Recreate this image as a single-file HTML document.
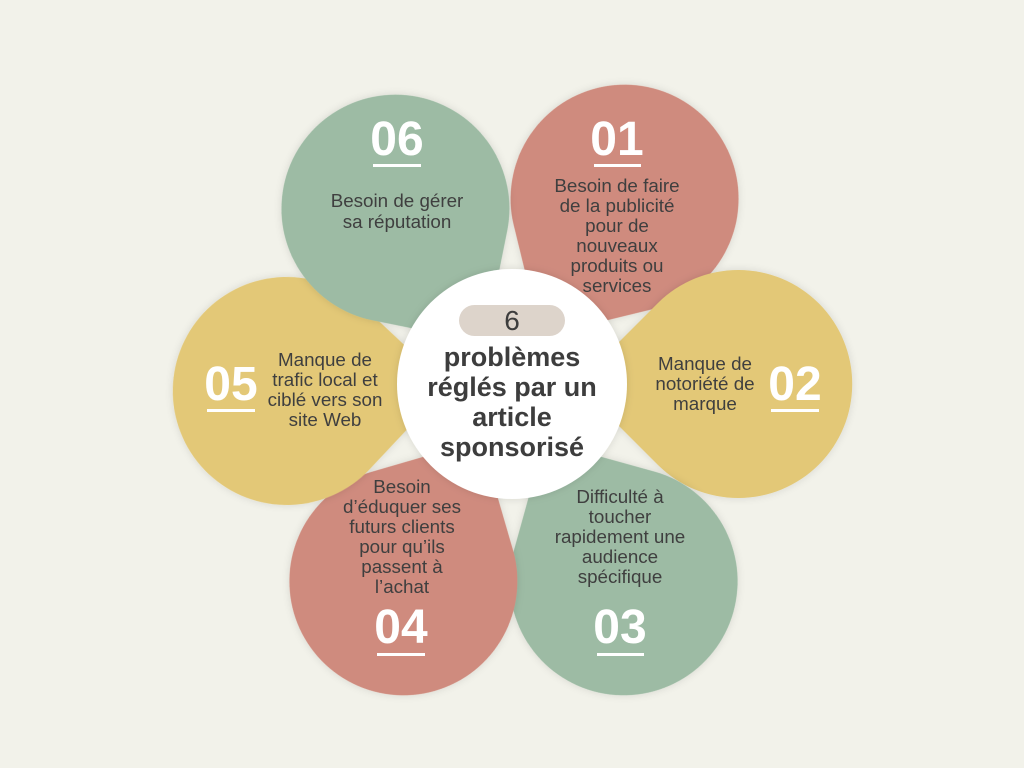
<!DOCTYPE html>
<html><head><meta charset="utf-8"><style>
html,body{margin:0;padding:0;background:#f2f2ea;}
svg{display:block}
.t{font-family:"Liberation Sans",sans-serif;font-size:18.8px;fill:#3f3f3f;text-anchor:middle}
.n{font-family:"Liberation Sans",sans-serif;font-size:48px;font-weight:bold;fill:#fff;text-anchor:middle}
.c{font-family:"Liberation Sans",sans-serif;font-size:27px;font-weight:bold;fill:#3d3d3d;text-anchor:middle}
</style></head><body>
<svg width="1024" height="768" viewBox="0 0 1024 768" xmlns="http://www.w3.org/2000/svg">
<defs>
<filter id="sh" x="-20%" y="-20%" width="140%" height="140%"><feDropShadow dx="0" dy="0" stdDeviation="4" flood-color="#000" flood-opacity="0.12"/></filter>
<path id="p" d="M-162,0 L-81,-81 A114,114 0 1 1 -81,81 Z"/>
</defs>
<rect width="1024" height="768" fill="#f2f2ea"/>
<use href="#p" fill="#cf8b7e" filter="url(#sh)" transform="translate(625,198) rotate(-58.7)"/>
<use href="#p" fill="#e3c877" filter="url(#sh)" transform="translate(739,384) rotate(0)"/>
<use href="#p" fill="#9dbba4" filter="url(#sh)" transform="translate(624,582) rotate(60.5)"/>
<use href="#p" fill="#cf8b7e" filter="url(#sh)" transform="translate(403,582) rotate(118.8)"/>
<use href="#p" fill="#e3c877" filter="url(#sh)" transform="translate(286,391) rotate(178.2)"/>
<use href="#p" fill="#9dbba4" filter="url(#sh)" transform="translate(395,208) rotate(236.4)"/>
<circle cx="512" cy="384" r="115" fill="#fff" filter="url(#sh)"/>
<rect x="459" y="305" width="106" height="31" rx="15.5" fill="#ddd4cb"/>
<text x="512" y="330" font-family="Liberation Sans,sans-serif" font-size="28" fill="#3d3d3d" text-anchor="middle">6</text>
<text class="c" x="512" y="366">problèmes</text>
<text class="c" x="512" y="396">réglés par un</text>
<text class="c" x="512" y="426">article</text>
<text class="c" x="512" y="456">sponsorisé</text>

<text class="n" x="617" y="155">01</text><rect x="594" y="164" width="47" height="3" fill="#fff"/>
<text class="t" x="617" y="192">Besoin de faire</text>
<text class="t" x="617" y="212">de la publicité</text>
<text class="t" x="617" y="232">pour de</text>
<text class="t" x="617" y="252">nouveaux</text>
<text class="t" x="617" y="272">produits ou</text>
<text class="t" x="617" y="292">services</text>

<text class="n" x="795" y="400">02</text><rect x="771" y="409" width="48" height="3" fill="#fff"/>
<text class="t" x="705" y="370">Manque de</text>
<text class="t" x="705" y="390">notoriété de</text>
<text class="t" x="705" y="410">marque</text>

<text class="t" x="620" y="503">Difficulté à</text>
<text class="t" x="620" y="523">toucher</text>
<text class="t" x="620" y="543">rapidement une</text>
<text class="t" x="620" y="563">audience</text>
<text class="t" x="620" y="583">spécifique</text>
<text class="n" x="620" y="643">03</text><rect x="597" y="653" width="47" height="3" fill="#fff"/>

<text class="t" x="402" y="493">Besoin</text>
<text class="t" x="402" y="513">d’éduquer ses</text>
<text class="t" x="402" y="533">futurs clients</text>
<text class="t" x="402" y="553">pour qu’ils</text>
<text class="t" x="402" y="573">passent à</text>
<text class="t" x="402" y="593">l’achat</text>
<text class="n" x="401" y="643">04</text><rect x="377" y="653" width="48" height="3" fill="#fff"/>

<text class="n" x="231" y="400">05</text><rect x="207" y="409" width="48" height="3" fill="#fff"/>
<text class="t" x="325" y="366">Manque de</text>
<text class="t" x="325" y="386">trafic local et</text>
<text class="t" x="325" y="406">ciblé vers son</text>
<text class="t" x="325" y="426">site Web</text>

<text class="n" x="397" y="155">06</text><rect x="373" y="164" width="48" height="3" fill="#fff"/>
<text class="t" x="397" y="207">Besoin de gérer</text>
<text class="t" x="397" y="228">sa réputation</text>
</svg>
</body></html>
